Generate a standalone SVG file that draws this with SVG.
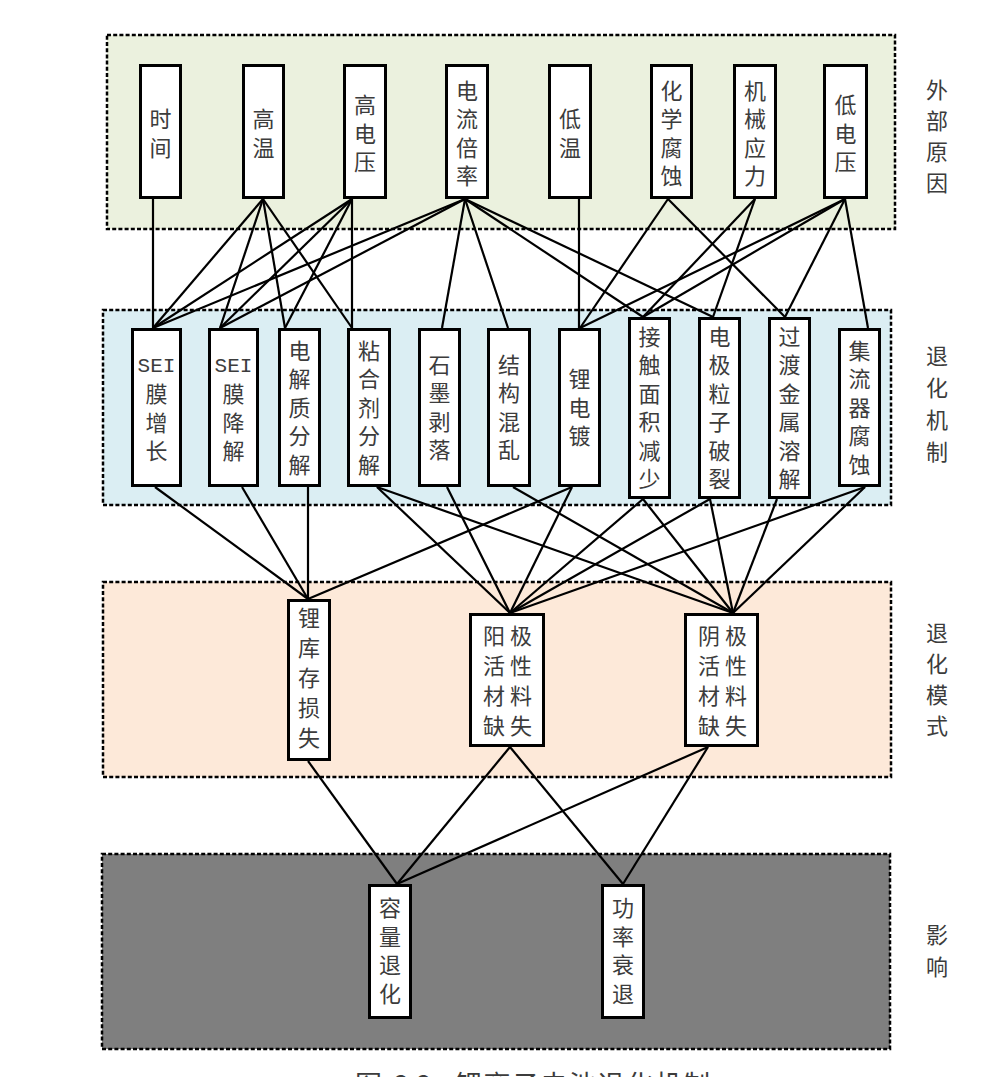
<svg xmlns="http://www.w3.org/2000/svg" width="1008" height="1077" viewBox="0 0 1008 1077">
  <style>
    .panel { stroke: #000; stroke-width: 2.5; stroke-dasharray: 4 2.2; }
    .box { fill: #fff; stroke: #000; stroke-width: 3; }
    .v { font-family: "Noto Sans CJK SC", "Liberation Serif", serif; font-size: 22px; fill: #3c3c3c; text-anchor: middle; writing-mode: vertical-rl; letter-spacing: 6.5px; }
    .v30 { letter-spacing: 8px; }
    .h2 { font-family: "Noto Sans CJK SC", "Liberation Serif", serif; font-size: 22px; fill: #3c3c3c; text-anchor: middle; letter-spacing: 5px; }
    .m { font-family: "Liberation Mono", monospace; font-size: 21px; fill: #3c3c3c; text-anchor: middle; }
    .lbl { font-family: "Noto Sans CJK SC", "Liberation Sans", sans-serif; font-size: 22px; fill: #3c3c3c; text-anchor: middle; writing-mode: vertical-rl; }
    .cap { font-family: "Noto Sans CJK SC", "Liberation Sans", sans-serif; font-size: 27px; fill: #3c3c3c; }
    #connectors line { stroke: #000; stroke-width: 2.2; }
  </style>

  <!-- layer bands -->
  <g id="bands">
    <rect class="panel" x="107" y="35" width="788" height="194" fill="#EBF1DE"/>
    <rect class="panel" x="103" y="310" width="788" height="195" fill="#DBEEF3"/>
    <rect class="panel" x="103" y="582" width="788" height="195" fill="#FDE9D9"/>
    <rect class="panel" x="102" y="854" width="788" height="195" fill="#7F7F7F"/>
  </g>

  <!-- band titles -->
  <g id="band-labels">
    <text class="lbl" x="937" y="140.6" letter-spacing="9">外部原因</text>
    <text class="lbl" x="937" y="408.6" letter-spacing="10">退化机制</text>
    <text class="lbl" x="937" y="683.6" letter-spacing="9">退化模式</text>
    <text class="lbl" x="937" y="955.6" letter-spacing="10">影响</text>
  </g>

  <!-- connectors -->
  <g id="connectors">
    <!-- external causes to mechanisms -->
    <line x1="153" y1="199" x2="153" y2="328"/>
    <line x1="263" y1="199" x2="153" y2="328"/>
    <line x1="263" y1="199" x2="220" y2="328"/>
    <line x1="263" y1="199" x2="285" y2="328"/>
    <line x1="263" y1="199" x2="352" y2="328"/>
    <line x1="352" y1="199" x2="153" y2="328"/>
    <line x1="352" y1="199" x2="220" y2="328"/>
    <line x1="352" y1="199" x2="285" y2="328"/>
    <line x1="352" y1="199" x2="352" y2="328"/>
    <line x1="465" y1="199" x2="153" y2="328"/>
    <line x1="465" y1="199" x2="220" y2="328"/>
    <line x1="465" y1="199" x2="442" y2="328"/>
    <line x1="465" y1="199" x2="508" y2="328"/>
    <line x1="465" y1="199" x2="643" y2="317"/>
    <line x1="465" y1="199" x2="713" y2="317"/>
    <line x1="579" y1="199" x2="579" y2="328"/>
    <line x1="668" y1="199" x2="580" y2="328"/>
    <line x1="668" y1="199" x2="785" y2="317"/>
    <line x1="755" y1="199" x2="643" y2="317"/>
    <line x1="755" y1="199" x2="713" y2="317"/>
    <line x1="845" y1="199" x2="580" y2="328"/>
    <line x1="845" y1="199" x2="643" y2="317"/>
    <line x1="845" y1="199" x2="785" y2="317"/>
    <line x1="845" y1="199" x2="868" y2="328"/>
    <!-- mechanisms to modes -->
    <line x1="155" y1="487" x2="308" y2="599"/>
    <line x1="242" y1="487" x2="308" y2="599"/>
    <line x1="308" y1="487" x2="308" y2="599"/>
    <line x1="572" y1="487" x2="308" y2="599"/>
    <line x1="377" y1="487" x2="510" y2="613"/>
    <line x1="377" y1="487" x2="733" y2="613"/>
    <line x1="447" y1="487" x2="510" y2="613"/>
    <line x1="513" y1="487" x2="733" y2="613"/>
    <line x1="572" y1="487" x2="510" y2="613"/>
    <line x1="643" y1="499" x2="510" y2="613"/>
    <line x1="643" y1="499" x2="733" y2="613"/>
    <line x1="710" y1="499" x2="510" y2="613"/>
    <line x1="710" y1="499" x2="733" y2="613"/>
    <line x1="777" y1="499" x2="733" y2="613"/>
    <line x1="865" y1="487" x2="510" y2="613"/>
    <line x1="865" y1="487" x2="733" y2="613"/>
    <!-- modes to effects -->
    <line x1="308" y1="761" x2="397" y2="884"/>
    <line x1="510" y1="747" x2="397" y2="884"/>
    <line x1="510" y1="747" x2="623" y2="884"/>
    <line x1="708" y1="747" x2="397" y2="884"/>
    <line x1="708" y1="747" x2="623" y2="884"/>
  </g>

  <!-- external causes -->
  <g id="n-time"><rect class="box" x="140.5" y="65.5" width="40" height="132"/>
    <text class="v" x="160.5" y="136.5">时间</text></g>
  <g id="n-hightemp"><rect class="box" x="243.5" y="65.5" width="40" height="132"/>
    <text class="v" x="263.5" y="136.5">高温</text></g>
  <g id="n-highvolt"><rect class="box" x="344.5" y="65.5" width="41" height="132"/>
    <text class="v" x="365" y="136.4">高电压</text></g>
  <g id="n-crate"><rect class="box" x="446.5" y="65.5" width="41" height="132"/>
    <text class="v" x="467" y="136.5">电流倍率</text></g>
  <g id="n-lowtemp"><rect class="box" x="549.5" y="65.5" width="41" height="132"/>
    <text class="v" x="570" y="136.5">低温</text></g>
  <g id="n-chemcorr"><rect class="box" x="651.5" y="65.5" width="40" height="132"/>
    <text class="v" x="671.5" y="136.5">化学腐蚀</text></g>
  <g id="n-mechstress"><rect class="box" x="734.5" y="65.5" width="41" height="132"/>
    <text class="v" x="755" y="136.5">机械应力</text></g>
  <g id="n-lowvolt"><rect class="box" x="824.5" y="65.5" width="42" height="132"/>
    <text class="v" x="845.5" y="136.4">低电压</text></g>

  <!-- degradation mechanisms -->
  <g id="n-sei-growth"><rect class="box" x="132.5" y="329.5" width="48" height="156"/>
    <text class="m" x="156.5" y="372">SEI</text>
    <text class="v" x="156.5" y="425.4">膜增长</text></g>
  <g id="n-sei-decomp"><rect class="box" x="209.5" y="329.5" width="48" height="156"/>
    <text class="m" x="233.5" y="372">SEI</text>
    <text class="v" x="233.5" y="425.4">膜降解</text></g>
  <g id="n-electrolyte"><rect class="box" x="279.5" y="329.5" width="40" height="156"/>
    <text class="v" x="299.5" y="410.4">电解质分解</text></g>
  <g id="n-binder"><rect class="box" x="348.5" y="329.5" width="41" height="156"/>
    <text class="v" x="369" y="410.4">粘合剂分解</text></g>
  <g id="n-graphite"><rect class="box" x="419.5" y="329.5" width="40" height="156"/>
    <text class="v" x="439.5" y="410.6">石墨剥落</text></g>
  <g id="n-structure"><rect class="box" x="488.5" y="329.5" width="41" height="156"/>
    <text class="v" x="509" y="410.6">结构混乱</text></g>
  <g id="n-plating"><rect class="box" x="559.5" y="329.5" width="40" height="156"/>
    <text class="v" x="579.5" y="410.4">锂电镀</text></g>
  <g id="n-contact"><rect class="box" x="629.5" y="318.5" width="40" height="179"/>
    <text class="v" x="649.5" y="411.1">接触面积减少</text></g>
  <g id="n-cracking"><rect class="box" x="699.5" y="318.5" width="40" height="179"/>
    <text class="v" x="719.5" y="411.1">电极粒子破裂</text></g>
  <g id="n-tm-dissolution"><rect class="box" x="769.5" y="318.5" width="40" height="179"/>
    <text class="v" x="789.5" y="411.1">过渡金属溶解</text></g>
  <g id="n-collector"><rect class="box" x="839.5" y="329.5" width="40" height="156"/>
    <text class="v" x="859.5" y="410.4">集流器腐蚀</text></g>

  <!-- degradation modes -->
  <g id="n-lli"><rect class="box" x="288.5" y="600.5" width="41" height="159"/>
    <text class="v v30" x="309" y="681.6">锂库存损失</text></g>
  <g id="n-lam-anode"><rect class="box" x="470.5" y="614.5" width="73" height="131"/>
    <text class="h2" x="510" y="644">阳极</text>
    <text class="h2" x="510" y="674">活性</text>
    <text class="h2" x="510" y="704">材料</text>
    <text class="h2" x="510" y="734">缺失</text></g>
  <g id="n-lam-cathode"><rect class="box" x="685.5" y="614.5" width="72" height="131"/>
    <text class="h2" x="725" y="644">阴极</text>
    <text class="h2" x="725" y="674">活性</text>
    <text class="h2" x="725" y="704">材料</text>
    <text class="h2" x="725" y="734">缺失</text></g>

  <!-- effects -->
  <g id="n-capacity"><rect class="box" x="369.5" y="885.5" width="41" height="132"/>
    <text class="v" x="390" y="954.1">容量退化</text></g>
  <g id="n-power"><rect class="box" x="602.5" y="885.5" width="41" height="132"/>
    <text class="v" x="623" y="954.1">功率衰退</text></g>

  <!-- figure caption -->
  <text class="cap" y="1095"><tspan x="355">图</tspan><tspan x="394">2.2</tspan><tspan x="455" letter-spacing="1.5">锂离子电池退化机制</tspan></text>
</svg>
